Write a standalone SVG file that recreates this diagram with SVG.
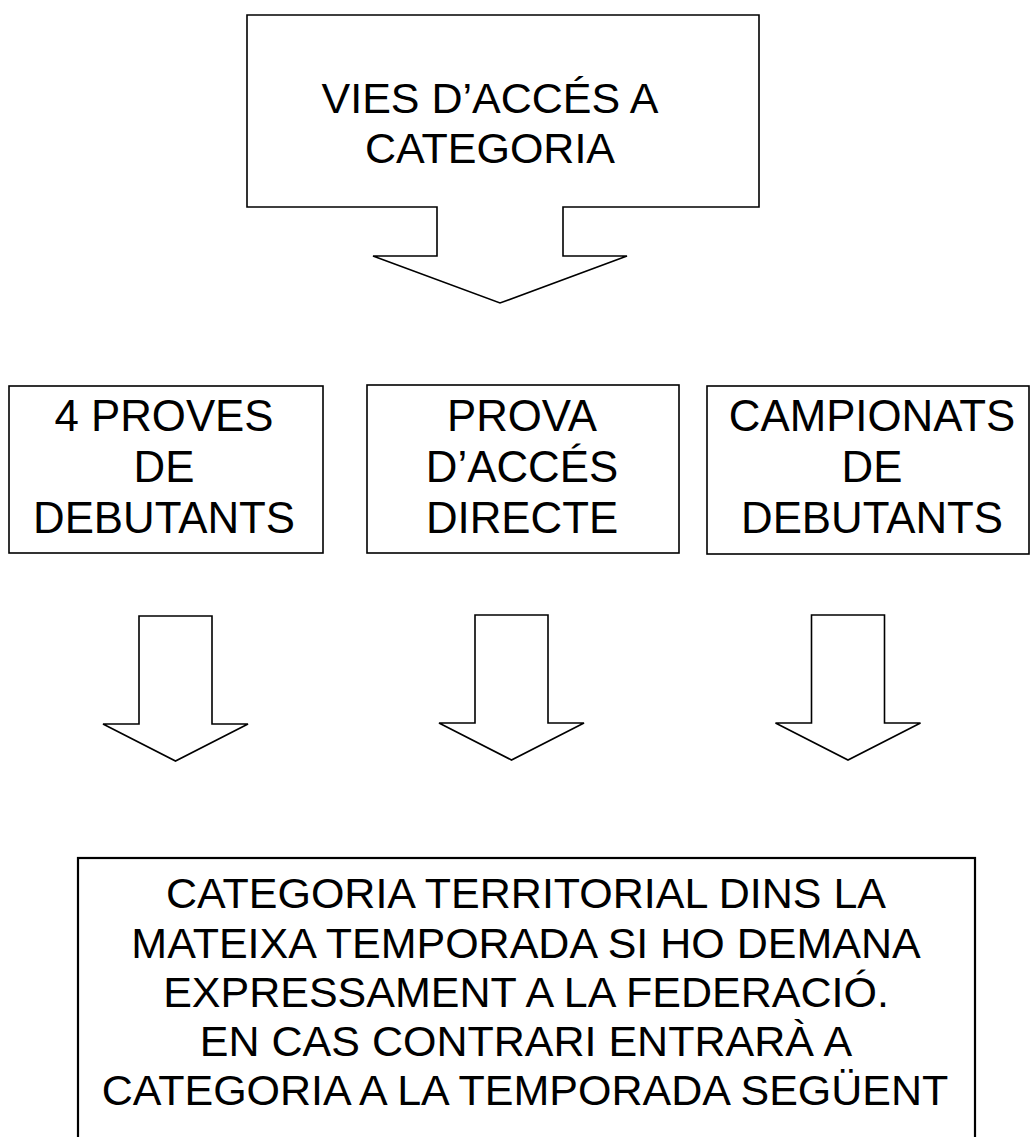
<svg xmlns="http://www.w3.org/2000/svg" xmlns:xlink="http://www.w3.org/1999/xlink" width="1031" height="1137" viewBox="0 0 1031 1137">
<style>
.shape{fill:#ffffff;stroke:#000000;stroke-width:1.6;stroke-linejoin:miter}
.thick{stroke-width:2.2}
.t{font-family:"Liberation Sans",Arial,sans-serif;fill:#000000;text-anchor:middle}
.t44{font-size:43.8px}
.t43{font-size:43px}
</style>
<defs>
<path id="blockArrow" class="shape" d="M-36.5,0 H36.5 V108 H72.5 L0,145 L-72.5,108 H-36.5 Z"/>
</defs>
<rect width="1031" height="1137" fill="#ffffff"/>

<g id="node-vies">
<path class="shape" d="M247,15 H759 V207 H563 V256 H627 L500,303 L373,256 H437 V207 H247 Z"/>
<text class="t t43" x="490" y="113">VIES D’ACCÉS A</text>
<text class="t t43" x="490" y="163">CATEGORIA</text>
</g>

<g id="node-proves">
<rect class="shape" x="9" y="386" width="314" height="167"/>
<text class="t t44" x="164" y="431">4 PROVES</text>
<text class="t t44" x="164" y="482">DE</text>
<text class="t t44" x="164" y="533">DEBUTANTS</text>
</g>

<g id="node-prova">
<rect class="shape" x="367" y="385" width="312" height="168"/>
<text class="t t44" x="522" y="431">PROVA</text>
<text class="t t44" x="522" y="482">D’ACCÉS</text>
<text class="t t44" x="522" y="533">DIRECTE</text>
</g>

<g id="node-campionats">
<rect class="shape" x="707" y="386" width="322" height="168"/>
<text class="t t44" x="872" y="431">CAMPIONATS</text>
<text class="t t44" x="872" y="482">DE</text>
<text class="t t44" x="872" y="533">DEBUTANTS</text>
</g>

<g id="connectors">
<use xlink:href="#blockArrow" href="#blockArrow" transform="translate(175.5,616)"/>
<use xlink:href="#blockArrow" href="#blockArrow" transform="translate(511.5,615)"/>
<use xlink:href="#blockArrow" href="#blockArrow" transform="translate(848,615)"/>
</g>

<g id="node-categoria">
<rect class="shape thick" x="78" y="858" width="897" height="290"/>
<text class="t t43" x="526" y="908">CATEGORIA TERRITORIAL DINS LA</text>
<text class="t t43" x="526" y="958">MATEIXA TEMPORADA SI HO DEMANA</text>
<text class="t t43" x="526" y="1007">EXPRESSAMENT A LA FEDERACIÓ.</text>
<text class="t t43" x="526" y="1056">EN CAS CONTRARI ENTRARÀ A</text>
<text class="t t43" x="525" y="1105">CATEGORIA A LA TEMPORADA SEGÜENT</text>
</g>
</svg>
